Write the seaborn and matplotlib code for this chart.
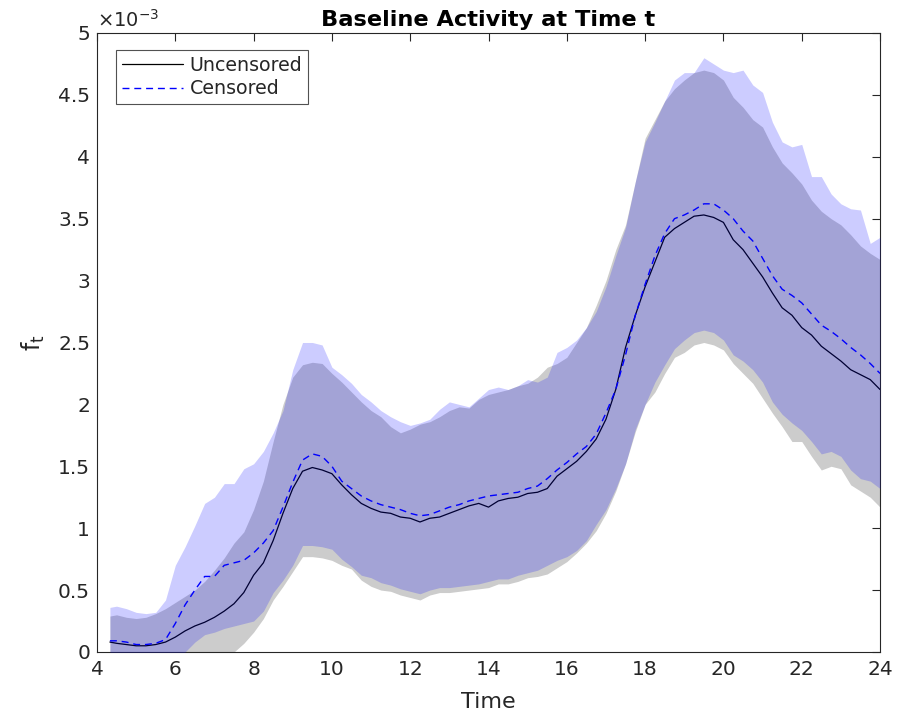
import numpy as np
import matplotlib
matplotlib.use("Agg")
import matplotlib.pyplot as plt
from matplotlib.ticker import FuncFormatter, MultipleLocator
import seaborn as sns

# time grid (hours)
time = [4.33, 4.5, 4.75, 5.0, 5.25, 5.5, 5.75, 6.0, 6.25, 6.5, 6.75, 7.0, 7.25, 7.5, 7.75,
        8.0, 8.25, 8.5, 8.75, 9.0, 9.25, 9.5, 9.75, 10.0, 10.25, 10.5, 10.75, 11.0, 11.25,
        11.5, 11.75, 12.0, 12.25, 12.5, 12.75, 13.0, 13.25, 13.5, 13.75, 14.0, 14.25, 14.5,
        14.75, 15.0, 15.25, 15.5, 15.75, 16.0, 16.25, 16.5, 16.75, 17.0, 17.25, 17.5, 17.75,
        18.0, 18.25, 18.5, 18.75, 19.0, 19.25, 19.5, 19.75, 20.0, 20.25, 20.5, 20.75, 21.0,
        21.25, 21.5, 21.75, 22.0, 22.25, 22.5, 22.75, 23.0, 23.25, 23.5, 23.75, 24.0]

# values in units of 1e-3
uncensored_mean = [0.08, 0.07, 0.06, 0.05, 0.05, 0.06, 0.08, 0.12, 0.17, 0.21, 0.24, 0.28, 0.33, 0.39, 0.48,
                   0.62, 0.72, 0.90, 1.12, 1.32, 1.46, 1.49, 1.47, 1.44, 1.35, 1.27, 1.20, 1.16, 1.13,
                   1.12, 1.09, 1.08, 1.05, 1.08, 1.09, 1.12, 1.15, 1.18, 1.20, 1.17, 1.22, 1.24,
                   1.25, 1.28, 1.29, 1.32, 1.42, 1.48, 1.54, 1.62, 1.72, 1.88, 2.12, 2.46, 2.72,
                   2.95, 3.15, 3.35, 3.42, 3.47, 3.52, 3.53, 3.51, 3.47, 3.33, 3.25, 3.14, 3.03,
                   2.90, 2.78, 2.72, 2.62, 2.56, 2.47, 2.41, 2.35, 2.28, 2.24, 2.20, 2.12]
censored_mean = [0.09, 0.09, 0.08, 0.06, 0.06, 0.07, 0.10, 0.23, 0.38, 0.50, 0.61, 0.61, 0.70, 0.72, 0.74,
                 0.80, 0.88, 0.98, 1.17, 1.37, 1.55, 1.60, 1.58, 1.50, 1.38, 1.32, 1.26, 1.22, 1.19,
                 1.17, 1.15, 1.12, 1.10, 1.11, 1.14, 1.17, 1.19, 1.22, 1.24, 1.26, 1.27, 1.28,
                 1.29, 1.32, 1.34, 1.40, 1.47, 1.53, 1.60, 1.66, 1.76, 1.93, 2.12, 2.40, 2.72,
                 2.97, 3.20, 3.38, 3.50, 3.53, 3.57, 3.62, 3.62, 3.57, 3.50, 3.40, 3.32, 3.18,
                 3.04, 2.93, 2.88, 2.82, 2.73, 2.64, 2.59, 2.53, 2.46, 2.40, 2.33, 2.25]
uncensored_upper = [0.29, 0.30, 0.28, 0.27, 0.28, 0.31, 0.35, 0.40, 0.45, 0.50, 0.57, 0.66, 0.76, 0.88, 0.97,
                    1.15, 1.38, 1.70, 2.00, 2.22, 2.32, 2.34, 2.33, 2.25, 2.18, 2.10, 2.02, 1.95, 1.90,
                    1.82, 1.77, 1.80, 1.84, 1.86, 1.90, 1.95, 1.98, 1.97, 2.04, 2.08, 2.10, 2.12,
                    2.15, 2.17, 2.22, 2.30, 2.33, 2.38, 2.50, 2.62, 2.80, 3.00, 3.25, 3.45, 3.80,
                    4.15, 4.30, 4.45, 4.55, 4.62, 4.68, 4.70, 4.68, 4.62, 4.48, 4.40, 4.30, 4.24,
                    4.08, 3.95, 3.87, 3.78, 3.65, 3.56, 3.50, 3.45, 3.37, 3.28, 3.22, 3.17]
uncensored_lower = [-0.50, -0.50, -0.52, -0.55, -0.55, -0.52, -0.48, -0.42, -0.35, -0.28, -0.20, -0.13, -0.06, 0.00, 0.07,
                    0.16, 0.27, 0.42, 0.53, 0.65, 0.77, 0.77, 0.76, 0.74, 0.70, 0.67, 0.58, 0.53, 0.50,
                    0.49, 0.46, 0.44, 0.42, 0.46, 0.48, 0.48, 0.49, 0.50, 0.51, 0.52, 0.55, 0.55,
                    0.57, 0.60, 0.61, 0.63, 0.68, 0.73, 0.80, 0.88, 0.98, 1.12, 1.30, 1.52, 1.78,
                    2.00, 2.10, 2.25, 2.38, 2.42, 2.48, 2.50, 2.48, 2.44, 2.33, 2.25, 2.17, 2.05,
                    1.93, 1.82, 1.70, 1.70, 1.58, 1.47, 1.50, 1.48, 1.35, 1.30, 1.25, 1.17]
censored_upper = [0.36, 0.37, 0.35, 0.32, 0.31, 0.32, 0.42, 0.70, 0.85, 1.02, 1.20, 1.25, 1.36, 1.36, 1.48,
                  1.52, 1.62, 1.77, 1.95, 2.28, 2.50, 2.50, 2.48, 2.30, 2.24, 2.17, 2.08, 2.02, 1.95,
                  1.90, 1.86, 1.83, 1.85, 1.88, 1.96, 2.02, 2.00, 1.98, 2.05, 2.12, 2.14, 2.12,
                  2.15, 2.20, 2.18, 2.22, 2.42, 2.46, 2.52, 2.62, 2.75, 2.95, 3.20, 3.43, 3.80,
                  4.12, 4.28, 4.45, 4.62, 4.68, 4.68, 4.80, 4.75, 4.70, 4.68, 4.70, 4.58, 4.52,
                  4.28, 4.12, 4.08, 4.10, 3.84, 3.84, 3.70, 3.62, 3.58, 3.57, 3.30, 3.35]
censored_lower = [-0.30, -0.30, -0.32, -0.33, -0.32, -0.28, -0.20, -0.10, 0.00, 0.08, 0.14, 0.16, 0.19, 0.21, 0.23,
                  0.25, 0.33, 0.48, 0.58, 0.70, 0.86, 0.86, 0.85, 0.83, 0.75, 0.69, 0.62, 0.60, 0.56,
                  0.54, 0.51, 0.49, 0.47, 0.50, 0.52, 0.52, 0.53, 0.54, 0.55, 0.57, 0.59, 0.59,
                  0.62, 0.64, 0.66, 0.70, 0.74, 0.77, 0.82, 0.90, 1.03, 1.15, 1.32, 1.52, 1.80,
                  2.00, 2.18, 2.32, 2.45, 2.52, 2.58, 2.60, 2.58, 2.52, 2.40, 2.35, 2.28, 2.18,
                  2.02, 1.92, 1.85, 1.79, 1.70, 1.60, 1.62, 1.58, 1.47, 1.40, 1.38, 1.32]

series_labels = ["Uncensored", "Censored"]
x_ticks = [4, 6, 8, 10, 12, 14, 16, 18, 20, 22, 24]

sns.set_style("white")
plt.rcParams['font.family'] = ['DejaVu Sans']

fig = plt.figure(figsize=(8.98, 7.17), dpi=100)
ax = fig.add_axes([0.108, 0.0907, 0.872, 0.8633])

txt = '#262626'
ax.fill_between(time, uncensored_lower, uncensored_upper, color='#cccccc', lw=0, zorder=1)
sns.lineplot(x=time, y=uncensored_mean, color='black', lw=0.9, ax=ax, label=series_labels[0], zorder=2)
sns.lineplot(x=time, y=censored_mean, color='blue', lw=1.0, ax=ax, label=series_labels[1], zorder=2,
             linestyle=(0, (5, 3.5)))
ax.fill_between(time, censored_lower, censored_upper, color='blue', alpha=0.2, lw=0, zorder=3)

ax.set_xlim(4, 24)
ax.set_ylim(0, 5)
ax.set_xticks(x_ticks)
ax.yaxis.set_major_locator(MultipleLocator(0.5))
ax.yaxis.set_major_formatter(FuncFormatter(lambda v, p: '%g' % v))
ax.tick_params(direction='in', length=6, width=0.8, colors=txt, labelsize=14.5,
               top=True, right=True, labelcolor=txt)
ax.tick_params(axis='x', pad=6)
ax.tick_params(axis='y', pad=5)
for s in ax.spines.values():
    s.set_color(txt)
    s.set_linewidth(0.8)
    s.set_visible(True)

ax.set_title('Baseline Activity at Time t', fontsize=16.2, fontweight='bold', color='black', pad=5)
ax.set_xlabel('Time', fontsize=16, color=txt, labelpad=9)
ax.set_ylabel('f$_\\mathregular{t}$', fontsize=17, color=txt, labelpad=8)
ax.text(0.0, 1.003, '$\\times$10$^{\\mathregular{-3}}$', transform=ax.transAxes,
        fontsize=14, color=txt, ha='left', va='bottom')

leg = ax.legend(loc='upper left', bbox_to_anchor=(0.0245, 0.972), fontsize=13.7, frameon=True,
                fancybox=False, borderpad=0.3, handlelength=3.2, handletextpad=0.35,
                labelspacing=0.22, borderaxespad=0)
leg.get_frame().set_edgecolor(txt)
leg.get_frame().set_linewidth(0.8)
for t in leg.get_texts():
    t.set_color(txt)

fig.savefig('out.png', dpi=100)
